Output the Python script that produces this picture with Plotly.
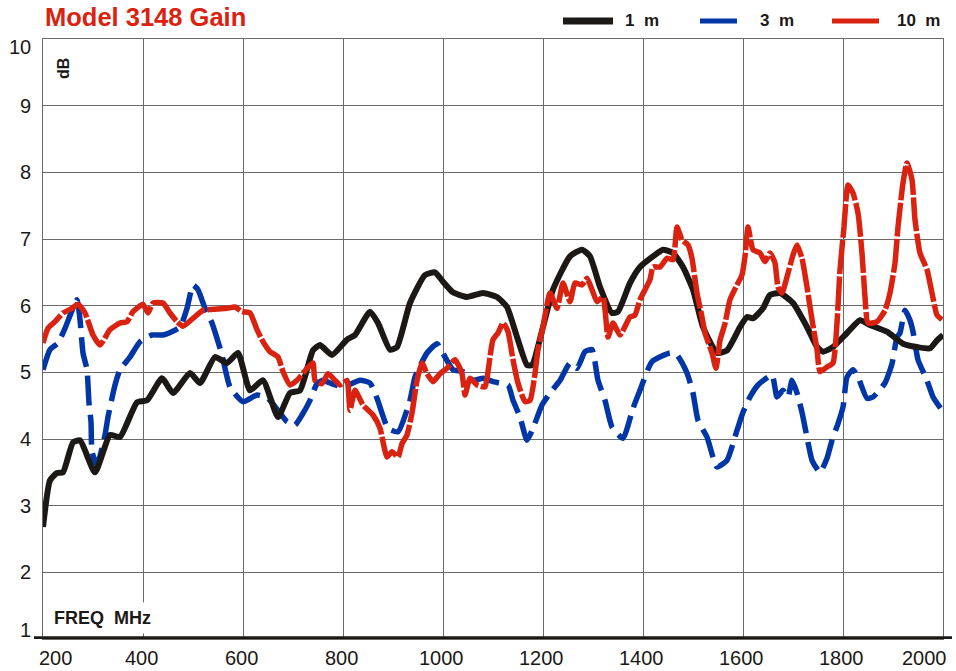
import plotly.graph_objects as go

# ---------------- data ----------------
freq_1m = [200, 214, 228, 240, 260, 274, 304, 334, 354, 388, 408, 438, 460, 494, 514, 544, 568, 590,
           614, 640, 670, 694, 714, 740, 754, 778, 808, 824, 854, 870, 894, 908, 934, 964, 984, 1000,
           1020, 1048, 1080, 1108, 1128, 1148, 1168, 1178, 1200, 1220, 1254, 1278, 1294, 1314, 1338,
           1350, 1374, 1394, 1420, 1440, 1460, 1480, 1500, 1520, 1548, 1568, 1594, 1608, 1620, 1640,
           1654, 1674, 1700, 1728, 1748, 1760, 1780, 1808, 1834, 1854, 1888, 1920, 1948, 1974, 1988, 2000]
gain_1m = [2.68, 3.38, 3.49, 3.50, 3.95, 3.98, 3.50, 4.06, 4.03, 4.55, 4.58, 4.91, 4.69, 4.99, 4.84, 5.23,
           5.14, 5.29, 4.73, 4.88, 4.33, 4.69, 4.73, 5.33, 5.41, 5.26, 5.49, 5.56, 5.91, 5.74, 5.34, 5.38,
           6.04, 6.46, 6.50, 6.36, 6.20, 6.13, 6.19, 6.13, 5.98, 5.53, 5.11, 5.11, 5.68, 6.24, 6.74, 6.84,
           6.74, 6.28, 5.89, 5.91, 6.34, 6.58, 6.74, 6.84, 6.79, 6.58, 6.24, 5.68, 5.29, 5.33, 5.68, 5.83,
           5.81, 5.96, 6.16, 6.19, 6.04, 5.68, 5.38, 5.31, 5.38, 5.59, 5.78, 5.71, 5.61, 5.43, 5.38, 5.36,
           5.48, 5.56]

freq_3m = [200, 214, 230, 244, 268, 274, 280, 288, 292, 296, 298, 308, 324, 330, 344, 354, 374, 394, 418,
           440, 474, 488, 500, 510, 524, 538, 548, 558, 574, 600, 628, 650, 670, 688, 704, 718, 734, 748,
           760, 774, 800, 834, 854, 868, 890, 910, 934, 944, 968, 988, 1004, 1020, 1040, 1060, 1080, 1100,
           1130, 1140, 1154, 1168, 1180, 1198, 1214, 1234, 1254, 1268, 1284, 1298, 1310, 1324, 1338, 1360,
           1380, 1394, 1418, 1454, 1468, 1488, 1500, 1510, 1528, 1548, 1568, 1588, 1600, 1614, 1630, 1658,
           1668, 1680, 1690, 1698, 1708, 1718, 1730, 1738, 1754, 1768, 1778, 1790, 1800, 1808, 1820, 1830,
           1848, 1860, 1884, 1898, 1908, 1914, 1924, 1934, 1940, 1950, 1968, 1980, 1998]
gain_3m = [5.04, 5.34, 5.44, 5.66, 6.09, 5.79, 5.29, 5.04, 4.54, 4.26, 3.81, 3.61, 4.06, 4.33, 4.81, 5.04,
           5.23, 5.46, 5.56, 5.56, 5.68, 5.96, 6.31, 6.24, 5.96, 5.74, 5.51, 5.26, 4.78, 4.56, 4.66, 4.61,
           4.43, 4.26, 4.21, 4.36, 4.58, 4.83, 4.88, 4.84, 4.78, 4.88, 4.84, 4.61, 4.16, 4.11, 4.58, 4.93,
           5.29, 5.43, 5.23, 5.04, 5.01, 4.88, 4.91, 4.86, 4.81, 4.58, 4.33, 3.98, 4.16, 4.51, 4.69, 4.88,
           5.14, 5.06, 5.31, 5.34, 4.88, 4.58, 4.18, 4.01, 4.46, 4.73, 5.16, 5.29, 5.26, 4.99, 4.69, 4.28,
           4.03, 3.58, 3.68, 4.13, 4.40, 4.63, 4.81, 4.96, 4.63, 4.73, 4.63, 4.88, 4.69, 4.40, 3.95, 3.68,
           3.50, 3.71, 3.98, 4.23, 4.48, 4.93, 5.04, 4.93, 4.61, 4.63, 4.84, 5.13, 5.53, 5.59, 5.93, 5.78,
           5.61, 5.19, 4.88, 4.63, 4.43]

freq_10m = [200, 210, 224, 240, 258, 270, 284, 300, 314, 334, 354, 368, 380, 400, 410, 420, 440, 454, 468,
            480, 500, 520, 548, 568, 584, 598, 614, 628, 640, 654, 670, 680, 694, 708, 728, 740, 744, 758,
            770, 784, 794, 808, 814, 824, 840, 860, 874, 888, 898, 910, 918, 928, 938, 948, 958, 968, 980,
            994, 1008, 1024, 1038, 1044, 1054, 1068, 1084, 1090, 1100, 1110, 1120, 1130, 1140, 1150, 1164,
            1174, 1184, 1190, 1200, 1214, 1228, 1240, 1254, 1264, 1278, 1288, 1298, 1308, 1320, 1330, 1340,
            1354, 1374, 1384, 1394, 1414, 1420, 1434, 1448, 1460, 1468, 1478, 1490, 1498, 1508, 1518, 1524,
            1538, 1546, 1554, 1564, 1574, 1588, 1598, 1604, 1610, 1620, 1634, 1644, 1654, 1664, 1670, 1678,
            1688, 1700, 1708, 1718, 1728, 1738, 1748, 1754, 1768, 1780, 1788, 1794, 1802, 1810, 1820, 1830,
            1838, 1844, 1850, 1868, 1884, 1894, 1904, 1910, 1920, 1928, 1938, 1944, 1954, 1968, 1978, 1988,
            1998]
gain_10m = [5.44, 5.66, 5.76, 5.89, 5.96, 6.02, 5.89, 5.56, 5.41, 5.64, 5.74, 5.76, 5.91, 6.02, 5.89, 6.04,
            6.04, 5.89, 5.76, 5.69, 5.81, 5.93, 5.95, 5.96, 5.98, 5.91, 5.89, 5.64, 5.46, 5.31, 5.23, 5.01,
            4.81, 4.88, 5.06, 5.14, 4.88, 4.83, 4.98, 4.88, 4.81, 4.88, 4.43, 4.73, 4.51, 4.36, 4.16, 3.73,
            3.81, 3.73, 3.93, 4.06, 4.39, 4.88, 5.14, 4.98, 4.86, 4.98, 5.06, 5.19, 4.98, 4.66, 4.91, 4.81,
            4.78, 5.01, 5.49, 5.59, 5.74, 5.61, 5.19, 4.84, 4.56, 4.58, 4.98, 5.34, 5.68, 6.19, 5.96, 6.34,
            6.06, 6.34, 6.31, 6.41, 6.24, 6.06, 6.13, 5.53, 5.74, 5.56, 5.83, 5.86, 6.09, 6.39, 6.58, 6.58,
            6.71, 6.69, 7.18, 6.99, 6.91, 6.71, 6.19, 5.83, 5.59, 5.29, 5.06, 5.48, 5.73, 6.09, 6.31, 6.46,
            6.74, 7.18, 6.84, 6.79, 6.66, 6.79, 6.64, 6.28, 6.19, 6.43, 6.76, 6.91, 6.71, 6.28, 5.79, 5.34,
            5.01, 5.08, 5.14, 5.74, 6.54, 7.18, 7.81, 7.69, 7.39, 6.79, 6.13, 5.74, 5.76, 5.93, 6.19, 6.64,
            7.18, 7.84, 8.14, 7.89, 7.29, 6.79, 6.54, 6.19, 5.86, 5.79]

x_ticks = [200, 400, 600, 800, 1000, 1200, 1400, 1600, 1800, 2000]
x_tick_labels = ["200", "400", "600", "800", "1000", "1200", "1400", "1600", "1800", "2000"]
y_ticks = [1, 2, 3, 4, 5, 6, 7, 8, 9, 10]
y_tick_labels = ["1", "2", "3", "4", "5", "6", "7", "8", "9", "10"]

series_names = ["1 m", "3 m", "10 m"]
title_text = "Model 3148 Gain"

# ---------------- style ----------------
BLACK = "#1c1816"
BLUE = "#0036a6"
RED = "#da2210"
GRID = "#6a6a6a"
FONT = "Liberation Sans, Arial, sans-serif"

W, H = 956, 671
L, R, T, B = 43, 13, 39, 32
PW, PH = W - L - R, H - T - B


def px_x(p):
    return (p - L) / PW


def px_y(p):
    return (H - B - p) / PH


fig = go.Figure()

fig.add_trace(go.Scatter(x=freq_3m, y=gain_3m, mode="lines", name=series_names[1],
                         line=dict(color=BLUE, width=5.5, dash="30px,9px", shape="spline", smoothing=0.5),
                         showlegend=False))
fig.add_trace(go.Scatter(x=freq_1m, y=gain_1m, mode="lines", name=series_names[0],
                         line=dict(color=BLACK, width=6, shape="spline", smoothing=0.5),
                         showlegend=False))
fig.add_trace(go.Scatter(x=freq_10m, y=gain_10m, mode="lines", name=series_names[2],
                         line=dict(color=RED, width=5.5, dash="34px,2.5px", shape="spline", smoothing=0.5),
                         showlegend=False))

shapes = []
annotations = []

# thick bottom axis line
shapes.append(dict(type="line", xref="paper", yref="y", x0=px_x(34), x1=px_x(952), y0=1, y1=1,
                   line=dict(color=BLACK, width=5.5), layer="above"))

# legend (drawn manually: solid line samples)
leg_items = [(563, 613, 623, BLACK, 7), (700, 737, 758, BLUE, 5), (832, 879, 895, RED, 5)]
for (x0, x1, tx, col, wd), name in zip(leg_items, series_names):
    shapes.append(dict(type="line", xref="paper", yref="paper", x0=px_x(x0), x1=px_x(x1),
                       y0=px_y(21), y1=px_y(21), line=dict(color=col, width=wd)))
    annotations.append(dict(text=f"<b>{name.replace(' ', '&nbsp;&nbsp;')}</b>", xref="paper", yref="paper",
                            x=px_x(tx), y=px_y(21), xanchor="left", yanchor="middle", showarrow=False,
                            font=dict(family=FONT, size=17, color=BLACK)))

# title
annotations.append(dict(text=f"<b>{title_text}</b>", xref="paper", yref="paper", x=px_x(43), y=px_y(17),
                        xanchor="left", yanchor="middle", showarrow=False,
                        font=dict(family=FONT, size=25.5, color=RED)))

# y tick labels
for v, lab in zip(y_ticks, y_tick_labels):
    shift = 0
    if v == 10:
        shift = -8
    elif v == 1:
        shift = 9
    annotations.append(dict(text=lab, xref="paper", yref="y", x=px_x(33), y=v, xanchor="right",
                            yanchor="middle", yshift=shift, showarrow=False,
                            font=dict(family=FONT, size=20, color=BLACK)))

# x tick labels
for v, lab in zip(x_ticks, x_tick_labels):
    xs = 12 if v == 200 else (-19 if v == 2000 else -2)
    annotations.append(dict(text=lab, xref="x", yref="paper", x=v, y=0, xanchor="center",
                            yanchor="middle", yshift=-19, xshift=xs, showarrow=False,
                            font=dict(family=FONT, size=20, color=BLACK)))

# axis captions
annotations.append(dict(text="<b>FREQ&nbsp;&nbsp;MHz</b>", xref="paper", yref="paper", x=px_x(48), y=px_y(618),
                        xanchor="left", yanchor="middle", showarrow=False, bgcolor="white",
                        borderpad=5, font=dict(family=FONT, size=18, color=BLACK)))
annotations.append(dict(text="<b>dB</b>", xref="paper", yref="paper", x=px_x(63), y=px_y(69),
                        xanchor="center", yanchor="middle", textangle=-90, showarrow=False,
                        font=dict(family=FONT, size=16, color=BLACK)))

fig.update_layout(
    width=W, height=H,
    margin=dict(l=L, r=R, t=T, b=B, pad=0),
    paper_bgcolor="white", plot_bgcolor="white",
    showlegend=False,
    shapes=shapes, annotations=annotations,
    xaxis=dict(range=[200, 2000], tickvals=x_ticks, showticklabels=False, ticks="",
               showgrid=True, gridcolor=GRID, gridwidth=1, zeroline=False,
               showline=True, mirror=True, linecolor=GRID, linewidth=1),
    yaxis=dict(range=[1, 10], tickvals=y_ticks, showticklabels=False, ticks="",
               showgrid=True, gridcolor=GRID, gridwidth=1, zeroline=False,
               showline=True, mirror=True, linecolor=GRID, linewidth=1),
)

fig.write_html("out.html", config={"displayModeBar": False},
               post_script="document.body.style.margin='0px';document.body.style.overflow='hidden';")
